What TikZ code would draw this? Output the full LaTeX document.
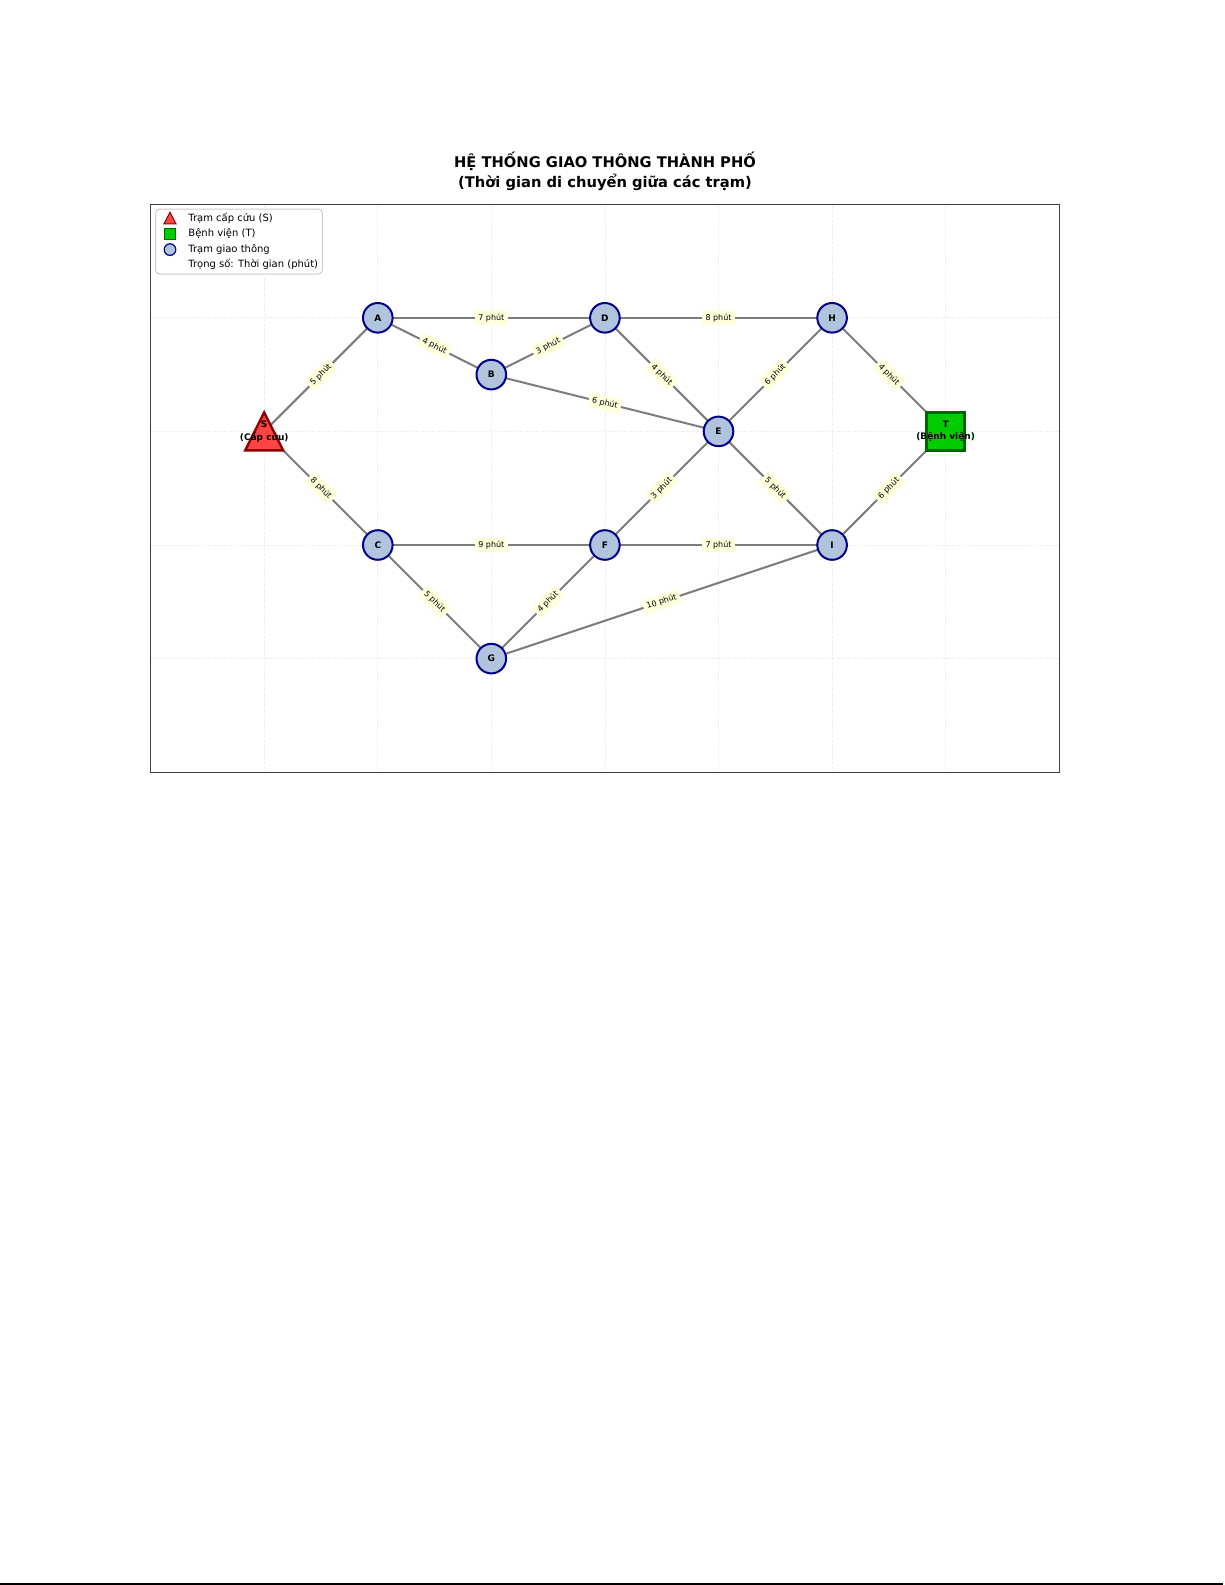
\documentclass[tikz,border=0pt]{standalone}
\usepackage{fontspec}
\setmainfont{DejaVu Sans}
\usetikzlibrary{backgrounds}
\definecolor{nodefill}{HTML}{B0C4DE}
\definecolor{nodeedge}{HTML}{00008B}
\definecolor{sfill}{HTML}{FF4444}
\definecolor{sedge}{HTML}{8B0000}
\definecolor{tfill}{HTML}{00CC00}
\definecolor{tedge}{HTML}{006400}
\definecolor{edgegray}{HTML}{7C7C7C}
\definecolor{lblfill}{HTML}{FFFFDC}
\definecolor{gridc}{HTML}{EFEFEF}
\begin{document}
\begin{tikzpicture}[x=0.5bp,y=-0.5bp,
  station/.style={circle, draw=nodeedge, fill=nodefill, line width=1bp, minimum size=14.8bp, inner sep=0pt, font=\fontsize{4.5bp}{5.4bp}\selectfont\bfseries},
  endtext/.style={inner sep=0pt, align=center, font=\fontsize{4.5bp}{6.2bp}\selectfont\bfseries},
  road/.style={draw=edgegray, line width=1bp},
  wlabel/.style={midway, sloped, fill=lblfill, inner sep=1.7bp, font=\fontsize{4bp}{4.8bp}\selectfont, text=black},
  gridline/.style={draw=gridc, line width=0.4bp, dash pattern=on 1.8bp off 0.8bp},
  legtext/.style={anchor=west, inner sep=0pt, font=\fontsize{5bp}{6bp}\selectfont}
]
\useasboundingbox (0,0) rectangle (1225,1585);

% title
\node[align=center, inner sep=0pt, font=\fontsize{7.35bp}{9.9bp}\selectfont\bfseries] (title) at (605,171) {HỆ THỐNG GIAO THÔNG THÀNH PHỐ\\(Thời gian di chuyển giữa các trạm)};

% positions
\coordinate (Sp) at (264.2,431.4);
\coordinate (Tp) at (945.6,431.4);

% start / end shapes
\filldraw[fill=sfill, draw=sedge, line width=1.2bp, line join=miter] ([shift={(0,-19)}]Sp) -- ([shift={(-19,19)}]Sp) -- ([shift={(19,19)}]Sp) -- cycle;
\filldraw[fill=tfill, draw=tedge, line width=1.3bp] ([shift={(-19,-19)}]Tp) rectangle ([shift={(19,19)}]Tp);

% nodes
\node[endtext] (S) at (Sp) {S\\(Cấp cứu)};
\node[endtext] (T) at (Tp) {T\\(Bệnh viện)};
\node[station] (A) at (377.8,317.8) {A};
\node[station] (B) at (491.3,374.6) {B};
\node[station] (C) at (377.8,545) {C};
\node[station] (D) at (604.9,317.8) {D};
\node[station] (E) at (718.5,431.4) {E};
\node[station] (F) at (604.9,545) {F};
\node[station] (G) at (491.3,658.6) {G};
\node[station] (H) at (832.1,317.8) {H};
\node[station] (I) at (832.1,545) {I};

\begin{pgfonlayer}{background}
  % grid
  \foreach \gx in {264.2,377.8,491.3,604.9,718.5,832.1,945.6}
    \draw[gridline] (\gx,204.2) -- (\gx,772.2);
  \foreach \gy in {317.8,431.4,545,658.6}
    \draw[gridline] (150.6,\gy) -- (1059.2,\gy);
  % roads
  \draw[road] (S.center) -- node[wlabel]{5 phút} (A.center);
  \draw[road] (S.center) -- node[wlabel]{8 phút} (C.center);
  \draw[road] (A.center) -- node[wlabel]{7 phút} (D.center);
  \draw[road] (A.center) -- node[wlabel]{4 phút} (B.center);
  \draw[road] (B.center) -- node[wlabel]{3 phút} (D.center);
  \draw[road] (B.center) -- node[wlabel]{6 phút} (E.center);
  \draw[road] (D.center) -- node[wlabel]{4 phút} (E.center);
  \draw[road] (D.center) -- node[wlabel]{8 phút} (H.center);
  \draw[road] (H.center) -- node[wlabel]{6 phút} (E.center);
  \draw[road] (H.center) -- node[wlabel]{4 phút} (T.center);
  \draw[road] (E.center) -- node[wlabel]{5 phút} (I.center);
  \draw[road] (E.center) -- node[wlabel]{3 phút} (F.center);
  \draw[road] (I.center) -- node[wlabel]{6 phút} (T.center);
  \draw[road] (C.center) -- node[wlabel]{9 phút} (F.center);
  \draw[road] (F.center) -- node[wlabel]{7 phút} (I.center);
  \draw[road] (C.center) -- node[wlabel]{5 phút} (G.center);
  \draw[road] (G.center) -- node[wlabel]{4 phút} (F.center);
  \draw[road] (G.center) -- node[wlabel]{10 phút} (I.center);
\end{pgfonlayer}

% axes frame
\draw[draw=black!75, line width=0.5bp] (150.6,204.2) rectangle (1059.2,772.2);

% legend
\draw[draw=gray!40, fill=white, line width=0.5bp, rounded corners=2bp] (155.6,209) rectangle (322.4,274);
\coordinate (L1) at (170,218.3);
\coordinate (L2) at (170,233.5);
\coordinate (L3) at (170,249.6);
\filldraw[fill=sfill, draw=sedge, line width=0.5bp] ([shift={(0,-6)}]L1) -- ([shift={(-6,5.5)}]L1) -- ([shift={(6,5.5)}]L1) -- cycle;
\filldraw[fill=tfill, draw=tedge, line width=0.5bp] ([shift={(-5.5,-5.5)}]L2) rectangle ([shift={(5.5,5.5)}]L2);
\filldraw[fill=nodefill, draw=nodeedge, line width=0.6bp] (L3) circle (2.9bp);
\node[legtext] (leg1) at (188,218.3) {Trạm cấp cứu (S)};
\node[legtext] (leg2) at (188,233.5) {Bệnh viện (T)};
\node[legtext] (leg3) at (188,249.6) {Trạm giao thông};
\node[legtext] (leg4) at (188,264.8) {Trọng số: Thời gian (phút)};

% bottom rule
\draw[line width=0.8bp] (0,1584) -- (1223,1584);
\end{tikzpicture}
\end{document}
